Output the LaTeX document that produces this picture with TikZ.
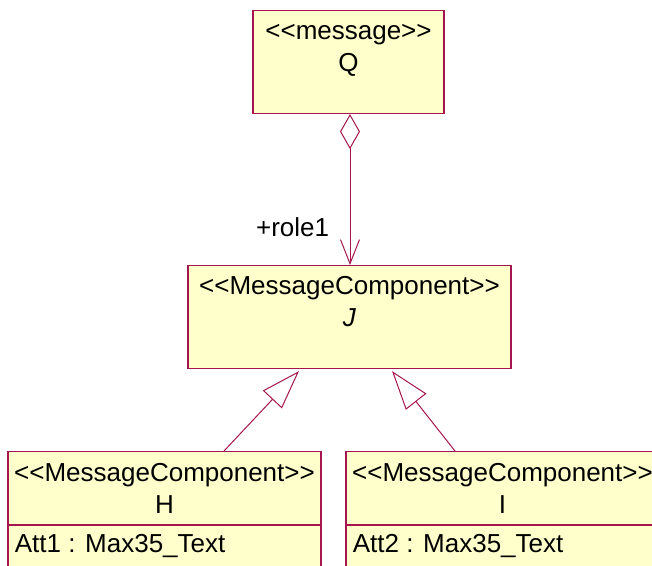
\documentclass[tikz,border=0pt]{standalone}
\usepackage{fontspec}
\newfontfamily\umlfont{Liberation Sans}
\usetikzlibrary{arrows.meta,positioning,calc}
\definecolor{umlline}{HTML}{A5164F}
\definecolor{umlfill}{HTML}{FFFFCC}

\begin{document}
\begin{tikzpicture}[x=0.5pt,y=-0.5pt,
  classbox/.style={draw=umlline,fill=umlfill,line width=0.55pt,anchor=north,inner sep=0pt},
  classtext/.style={font=\umlfont\fontsize{13}{16}\selectfont,align=center,anchor=base,inner sep=0pt},
  attrtext/.style={font=\umlfont\fontsize{13}{16}\selectfont,anchor=base west,inner sep=0pt},
  assoc/.style={draw=umlline,line width=0.5pt}]
  \useasboundingbox (0,0) rectangle (652,566);
  \clip (0,0) rectangle (652,566);

  % message Q
  \node[classbox,minimum width=95.5pt,minimum height=51.5pt] (q) at (348.5,10) {};
  \node[classtext] (qtext) at ($(q.north)+(0,62)$) {<<message>>\\Q};

  % abstract component J
  \node[classbox,minimum width=161.5pt,minimum height=51.5pt] (j) at (349.5,265) {};
  \node[classtext] (jtext) at ($(j.north)+(0,62)$) {<<MessageComponent>>\\\textit{J}};

  % components H and I
  \node[classbox,minimum width=156.5pt,minimum height=80pt] (h) at (164.5,451) {};
  \node[classtext] (htext) at ($(h.north)+(0,62)$) {<<MessageComponent>>\\H};
  \draw[draw=umlline,line width=0.55pt] ($(h.north west)+(0,74)$) -- ($(h.north east)+(0,74)$);
  \node[attrtext] (hatt) at ($(h.north west)+(7,101)$) {Att1 : Max35\_Text};

  \node[classbox,minimum width=156.5pt,minimum height=80pt] (i) at (502.5,451) {};
  \node[classtext] (itext) at ($(i.north)+(0,62)$) {<<MessageComponent>>\\I};
  \draw[draw=umlline,line width=0.55pt] ($(i.north west)+(0,74)$) -- ($(i.north east)+(0,74)$);
  \node[attrtext] (iatt) at ($(i.north west)+(7,101)$) {Att2 : Max35\_Text};

  % aggregation
  \draw[assoc,{Diamond[open,length=17.5pt,width=10pt]}-{Straight Barb[length=12pt,width=9.5pt]}]
    ($(q.south)+(1.5,0)$) -- ($(j.north)+(0.5,0)$);
  \node[attrtext,anchor=base east] (role) at ($(j.north)+(-20,-28)$) {+role1};

  % generalization
  \draw[assoc,-{Triangle[open,length=19.5pt,width=13pt]}] ($(h.north)+(59.5,0)$) -- ($(j.south)+(-50.5,2)$);
  \draw[assoc,-{Triangle[open,length=19.5pt,width=13pt]}] ($(i.north)+(-47.5,0)$) -- ($(j.south)+(42.5,2)$);
\end{tikzpicture}
\end{document}
